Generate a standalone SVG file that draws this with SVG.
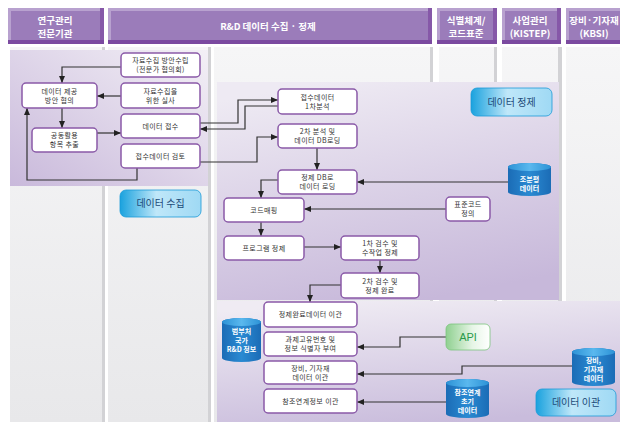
<svg xmlns="http://www.w3.org/2000/svg" width="620" height="422" viewBox="0 0 620 422">
<defs>
<linearGradient id="gPanel" x1="0" y1="0" x2="0" y2="1"><stop offset="0" stop-color="#f6f6f7"/><stop offset="1" stop-color="#e8e8ea"/></linearGradient>
<linearGradient id="gRegA" x1="1" y1="0" x2="0" y2="1"><stop offset="0" stop-color="#f3f0f6"/><stop offset="1" stop-color="#c9b9db"/></linearGradient>
<linearGradient id="gRegB" x1="0.3" y1="0" x2="0.6" y2="1"><stop offset="0" stop-color="#eeeaf3"/><stop offset="1" stop-color="#c7b8da"/></linearGradient>
<linearGradient id="gRegC" x1="0.3" y1="0" x2="0.6" y2="1"><stop offset="0" stop-color="#efebf3"/><stop offset="1" stop-color="#c9bcdc"/></linearGradient>
<linearGradient id="gBtn" x1="0" y1="0" x2="1" y2="0"><stop offset="0" stop-color="#1aa2de"/><stop offset="0.45" stop-color="#bfe7f9"/><stop offset="1" stop-color="#9fd9f4"/></linearGradient>
<linearGradient id="gApi" x1="0" y1="0" x2="1" y2="0"><stop offset="0" stop-color="#8fd090"/><stop offset="0.6" stop-color="#e6f5e6"/><stop offset="1" stop-color="#ffffff"/></linearGradient>
<linearGradient id="gCyl" x1="0" y1="0" x2="1" y2="0"><stop offset="0" stop-color="#1b6cb6"/><stop offset="0.5" stop-color="#2a8ad2"/><stop offset="1" stop-color="#1b6cb6"/></linearGradient>
<linearGradient id="gCylTop" x1="0" y1="0" x2="1" y2="0"><stop offset="0" stop-color="#2c92d6"/><stop offset="0.5" stop-color="#5ab8ee"/><stop offset="1" stop-color="#2c92d6"/></linearGradient>
<marker id="arr" markerUnits="userSpaceOnUse" markerWidth="7" markerHeight="6" refX="7" refY="3" orient="auto"><path d="M0,0 L7,3 L0,6 Z" fill="#222"/></marker>
</defs>
<style>
.hd{fill:#9b7cba}
.hdl{fill:#b8a1cf}
.hdd{fill:#7b4aa0}
.hdr{fill:#8658a8}
.ht{font-family:"Noto Sans CJK KR","Noto Sans",sans-serif;font-size:9.5px;font-weight:bold;fill:#ffffff;text-anchor:middle}
.pn{fill:url(#gPanel)}
.ps{fill:#d2d2d5}
.nd{fill:#ffffff;stroke:#8a5aa8;stroke-width:1.5}
.nt{font-family:"Noto Sans CJK KR","Noto Sans",sans-serif;font-size:7px;letter-spacing:0.4px;fill:#333333;text-anchor:middle}
.ln{fill:none;stroke:#333333;stroke-width:1.2;marker-end:url(#arr)}
.btn{fill:url(#gBtn);stroke:#1a9ad8;stroke-width:0.8}
.bt{font-family:"Noto Sans CJK KR","Noto Sans",sans-serif;font-size:10px;fill:#1c4a78;text-anchor:middle}
.cyl{fill:url(#gCyl)}
.cyt{fill:url(#gCylTop)}
.ct{font-family:"Noto Sans CJK KR","Noto Sans",sans-serif;font-size:7px;font-weight:bold;fill:#ffffff;text-anchor:middle}
</style>
<rect width="620" height="422" fill="#ffffff"/>
<g id="columns">
<rect class="ps" x="10" y="47" width="95" height="375"/><rect class="pn" x="10" y="47" width="92" height="375"/>
<rect class="ps" x="108" y="47" width="103" height="375"/><rect class="pn" x="108" y="47" width="100" height="375"/>
<rect class="ps" x="214" y="47" width="219" height="375"/><rect class="pn" x="214" y="47" width="216" height="375"/>
<rect class="ps" x="439" y="47" width="58" height="375"/><rect class="pn" x="439" y="47" width="55" height="375"/>
<rect class="ps" x="502" y="47" width="60" height="375"/><rect class="pn" x="502" y="47" width="56" height="375"/>
<rect class="pn" x="566" y="47" width="54" height="375"/>
</g>
<g id="headers">
<rect class="hdl" x="8" y="8" width="96" height="36"/><rect class="hd" x="11" y="11" width="93" height="33"/><rect class="hdr" x="100" y="8" width="4" height="36"/><rect class="hdd" x="8" y="40" width="96" height="4"/>
<text class="ht" x="55" y="23.5">연구관리</text><text class="ht" x="55" y="36.5">전문기관</text>
<rect class="hdl" x="108" y="8" width="324" height="36"/><rect class="hd" x="111" y="11" width="321" height="33"/><rect class="hdr" x="428" y="8" width="4" height="36"/><rect class="hdd" x="108" y="40" width="324" height="4"/>
<text class="ht" x="268" y="30">R&amp;D 데이터 수집 · 정제</text>
<rect class="hdl" x="437" y="8" width="60" height="36"/><rect class="hd" x="440" y="11" width="57" height="33"/><rect class="hdr" x="493" y="8" width="4" height="36"/><rect class="hdd" x="437" y="40" width="60" height="4"/>
<text class="ht" x="466" y="23.5">식별체계/</text><text class="ht" x="466" y="36.5">코드표준</text>
<rect class="hdl" x="502" y="8" width="59" height="36"/><rect class="hd" x="505" y="11" width="56" height="33"/><rect class="hdr" x="557" y="8" width="4" height="36"/><rect class="hdd" x="502" y="40" width="59" height="4"/>
<text class="ht" x="530" y="23.5">사업관리</text><text class="ht" x="530" y="36.5">(KISTEP)</text>
<rect class="hdl" x="566" y="8" width="56" height="36"/><rect class="hd" x="569" y="11" width="53" height="33"/><rect class="hdd" x="566" y="40" width="56" height="4"/>
<text class="ht" x="594" y="23.5">장비·기자재</text><text class="ht" x="594" y="36.5">(KBSI)</text>
</g>
<g id="regions">
<rect x="10" y="50" width="198" height="136" fill="url(#gRegA)"/>
<rect x="217" y="82" width="342" height="218" fill="url(#gRegB)"/>
<rect x="217" y="301" width="403" height="121" fill="url(#gRegC)"/>
</g>
<g id="connectors">
<path class="ln" d="M121,67 H62 V83"/>
<path class="ln" d="M121,96 H97"/>
<path class="ln" d="M62,108 V128"/>
<path class="ln" d="M97,133 H121"/>
<path class="ln" d="M137,168 V180 H27 V108"/>
<path class="ln" d="M200,123 H238 V100 H278"/>
<path class="ln" d="M278,106 H245 V129 H200"/>
<path class="ln" d="M200,162 H257 V137 H278"/>
<path class="ln" d="M317,148 V170"/>
<path class="ln" d="M508,182 H357"/>
<path class="ln" d="M278,180 H261 V198"/>
<path class="ln" d="M446,209 H304"/>
<path class="ln" d="M261,222 V236"/>
<path class="ln" d="M304,247 H341"/>
<path class="ln" d="M380,260 V273"/>
<path class="ln" d="M341,285 H310 V302"/>
<path class="ln" d="M446,337 H400 V347 H357"/>
<path class="ln" d="M572,366 H462 V374 H357"/>
<path class="ln" d="M446,402 H357"/>
</g>
<g id="n1"><rect class="nd" x="121" y="53" width="79" height="24" rx="4"/><text class="nt" x="160.5" y="63">자료수집 방안수립</text><text class="nt" x="160.5" y="72">(전문가 협의회)</text></g>
<g id="n2"><rect class="nd" x="22" y="83" width="75" height="25" rx="4"/><text class="nt" x="59.5" y="93.5">데이터 제공</text><text class="nt" x="59.5" y="102.5">방안 협의</text></g>
<g id="n3"><rect class="nd" x="121" y="83" width="79" height="25" rx="4"/><text class="nt" x="160.5" y="93.5">자료수집을</text><text class="nt" x="160.5" y="102.5">위한 실사</text></g>
<g id="n4"><rect class="nd" x="32" y="128" width="65" height="24" rx="4"/><text class="nt" x="64.5" y="138">공동활용</text><text class="nt" x="64.5" y="147">항목 추출</text></g>
<g id="n5"><rect class="nd" x="121" y="114" width="79" height="24" rx="4"/><text class="nt" x="160.5" y="128.5">데이터 접수</text></g>
<g id="n6"><rect class="nd" x="121" y="144" width="79" height="24" rx="4"/><text class="nt" x="160.5" y="158.5">접수데이터 검토</text></g>
<g id="c1"><rect class="nd" x="278" y="89" width="79" height="25" rx="4"/><text class="nt" x="317.5" y="99.5">접수데이터</text><text class="nt" x="317.5" y="108.5">1차분석</text></g>
<g id="c2"><rect class="nd" x="278" y="124" width="79" height="24" rx="4"/><text class="nt" x="317.5" y="134">2차 분석 및</text><text class="nt" x="317.5" y="143">데이터 DB로딩</text></g>
<g id="c3"><rect class="nd" x="278" y="170" width="79" height="24" rx="4"/><text class="nt" x="317.5" y="180">정제 DB로</text><text class="nt" x="317.5" y="189">데이터 로딩</text></g>
<g id="c4"><rect class="nd" x="224" y="198" width="80" height="24" rx="4"/><text class="nt" x="264" y="212.5">코드매핑</text></g>
<g id="c5"><rect class="nd" x="224" y="236" width="80" height="24" rx="4"/><text class="nt" x="264" y="250.5">프로그램 정제</text></g>
<g id="c6"><rect class="nd" x="341" y="236" width="78" height="24" rx="4"/><text class="nt" x="380" y="246">1차 검수 및</text><text class="nt" x="380" y="255">수작업 정제</text></g>
<g id="c7"><rect class="nd" x="341" y="273" width="78" height="25" rx="4"/><text class="nt" x="380" y="283.5">2차 검수 및</text><text class="nt" x="380" y="292.5">정제 완료</text></g>
<g id="c8"><rect class="nd" x="446" y="197" width="44" height="24" rx="4"/><text class="nt" x="468" y="207">표준코드</text><text class="nt" x="468" y="216">정의</text></g>
<g id="t1"><rect class="nd" x="264" y="302" width="93" height="25" rx="4"/><text class="nt" x="310.5" y="317">정제완료데이터 이관</text></g>
<g id="t2"><rect class="nd" x="264" y="332" width="93" height="24" rx="4"/><text class="nt" x="310.5" y="342">과제고유번호 및</text><text class="nt" x="310.5" y="351">정보 식별자 부여</text></g>
<g id="t3"><rect class="nd" x="264" y="361" width="93" height="23" rx="4"/><text class="nt" x="310.5" y="370.5">장비, 기자재</text><text class="nt" x="310.5" y="379.5">데이터 이관</text></g>
<g id="t4"><rect class="nd" x="264" y="389" width="93" height="24" rx="4"/><text class="nt" x="310.5" y="403.5">참조연계정보 이관</text></g>
<g id="db1"><path class="cyl" d="M508,167 A21.5,4 0 0 1 551,167 V192 A21.5,4 0 0 1 508,192 Z"/><ellipse class="cyt" cx="529.5" cy="167" rx="21.5" ry="4"/><text class="ct" x="529.5" y="182">조분평</text><text class="ct" x="529.5" y="191">데이터</text></g>
<g id="db2"><path class="cyl" d="M222,322 A19.5,4 0 0 1 261,322 V358 A19.5,4 0 0 1 222,358 Z"/><ellipse class="cyt" cx="241.5" cy="322" rx="19.5" ry="4"/><text class="ct" x="241.5" y="334">범부처</text><text class="ct" x="241.5" y="343">국가</text><text class="ct" x="241.5" y="352">R&amp;D 정보</text></g>
<g id="db3"><path class="cyl" d="M572,352 A21.5,4 0 0 1 615,352 V382 A21.5,4 0 0 1 572,382 Z"/><ellipse class="cyt" cx="593.5" cy="352" rx="21.5" ry="4"/><text class="ct" x="593.5" y="363">장비,</text><text class="ct" x="593.5" y="372">기자재</text><text class="ct" x="593.5" y="381">데이터</text></g>
<g id="db4"><path class="cyl" d="M446,383 A21.5,4 0 0 1 489,383 V414 A21.5,4 0 0 1 446,414 Z"/><ellipse class="cyt" cx="467.5" cy="383" rx="21.5" ry="4"/><text class="ct" x="467.5" y="395">참조연계</text><text class="ct" x="467.5" y="404">초기</text><text class="ct" x="467.5" y="413">데이터</text></g>
<g id="api"><rect x="446" y="324" width="44" height="26" rx="5" fill="url(#gApi)" stroke="#7cc47e" stroke-width="0.8"/><text x="468" y="341" font-family="Liberation Sans, Arial, sans-serif" font-size="11" fill="#2a9a4a" text-anchor="middle">API</text></g>
<g id="lbl-collect"><rect class="btn" x="120" y="190" width="81" height="27" rx="6"/><text class="bt" x="160.5" y="207">데이터 수집</text></g>
<g id="lbl-clean"><rect class="btn" x="471" y="88" width="81" height="28" rx="6"/><text class="bt" x="511.5" y="105.5">데이터 정제</text></g>
<g id="lbl-transfer"><rect class="btn" x="536" y="389" width="80" height="27" rx="6"/><text class="bt" x="576" y="406">데이터 이관</text></g>
</svg>
